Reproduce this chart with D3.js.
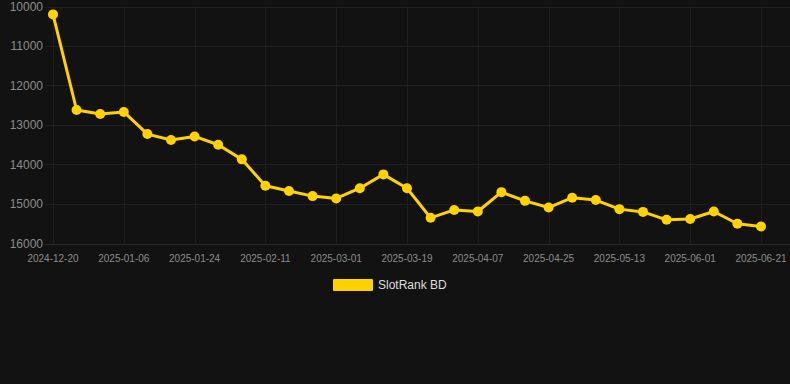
<html><head>
<meta charset="utf-8">
<title>SlotRank BD</title>
<style>
  body {
    margin: 0;
    background-color: #121212;
    font-family: Arial, "Liberation Sans", sans-serif;
  }
  .grid line {
    stroke: #1f1f1f;
    stroke-width: 1px;
  }
  .tick-label {
    fill: #8c8c8c;
  }
</style>
<script src="https://d3js.org/d3.v7.min.js"></script>
</head>
<body>
<div id="chart"></div>
<script>
const dates = [
  "2024-12-20", "2024-12-26", "2024-12-31", "2025-01-06", "2025-01-12", "2025-01-18",
  "2025-01-24", "2025-01-30", "2025-02-05", "2025-02-11", "2025-02-17", "2025-02-23",
  "2025-03-01", "2025-03-07", "2025-03-13", "2025-03-19", "2025-03-25", "2025-04-01",
  "2025-04-07", "2025-04-13", "2025-04-19", "2025-04-25", "2025-05-01", "2025-05-07",
  "2025-05-13", "2025-05-19", "2025-05-25", "2025-06-01", "2025-06-07", "2025-06-14",
  "2025-06-21"
];
const ranks = [
  10200, 12620, 12720, 12670, 13230, 13380,
  13290, 13500, 13870, 14540, 14670, 14800,
  14860, 14600, 14250, 14600, 15350, 15150,
  15190, 14700, 14920, 15090, 14840, 14900,
  15130, 15200, 15400, 15380, 15190, 15500,
  15570
];
const yTicks = [10000, 11000, 12000, 13000, 14000, 15000, 16000];
const seriesName = "SlotRank BD";
const gold = "#ffd200";

const width = 790, height = 384;
const plotLeft = 45, plotRight = 790, plotTop = 6.5, plotBottom = 243.5;

const svg = d3.select("#chart").append("svg")
  .attr("width", width)
  .attr("height", height);

svg.append("rect")
  .attr("width", width)
  .attr("height", height)
  .attr("fill", "#121212");

const x = d3.scalePoint()
  .domain(dates)
  .range([53, 761]);

const y = d3.scaleLinear()
  .domain([10000, 16000])
  .range([plotTop, plotBottom]);

// horizontal grid
const grid = svg.append("g").attr("class", "grid");
grid.selectAll("line.h")
  .data(yTicks)
  .enter().append("line")
  .attr("class", "h")
  .attr("x1", plotLeft)
  .attr("x2", plotRight)
  .attr("y1", d => Math.round(y(d)) + 0.5)
  .attr("y2", d => Math.round(y(d)) + 0.5);

// vertical grid at labelled dates
const shownDates = dates.filter((d, i) => i % 3 === 0);
grid.selectAll("line.v")
  .data(shownDates)
  .enter().append("line")
  .attr("class", "v")
  .attr("x1", d => Math.round(x(d)) + 0.5)
  .attr("x2", d => Math.round(x(d)) + 0.5)
  .attr("y1", plotTop)
  .attr("y2", plotBottom);

// x axis line
svg.append("line")
  .attr("x1", plotLeft)
  .attr("x2", plotRight)
  .attr("y1", Math.round(y(16000)) + 0.5)
  .attr("y2", Math.round(y(16000)) + 0.5)
  .attr("stroke", "#2a2a2a");

// y labels
svg.append("g").selectAll("text")
  .data(yTicks)
  .enter().append("text")
  .attr("class", "tick-label")
  .attr("x", 43)
  .attr("y", d => y(d))
  .attr("dy", "0.35em")
  .attr("text-anchor", "end")
  .attr("font-size", 12)
  .text(d => d);

// x labels
svg.append("g").selectAll("text")
  .data(shownDates)
  .enter().append("text")
  .attr("class", "tick-label")
  .attr("x", d => x(d))
  .attr("y", 258)
  .attr("dy", "0.35em")
  .attr("text-anchor", "middle")
  .attr("font-size", 10)
  .text(d => d);

// series line
const line = d3.line()
  .x((d, i) => x(dates[i]))
  .y(d => y(d));

svg.append("path")
  .datum(ranks)
  .attr("fill", "none")
  .attr("stroke", gold)
  .attr("stroke-width", 3)
  .attr("stroke-linejoin", "round")
  .attr("d", line);

svg.append("g").selectAll("circle")
  .data(ranks)
  .enter().append("circle")
  .attr("cx", (d, i) => x(dates[i]))
  .attr("cy", d => y(d))
  .attr("r", 5)
  .attr("fill", gold);

// legend
const legend = svg.append("g").attr("transform", "translate(333,279)");
legend.append("rect")
  .attr("width", 40)
  .attr("height", 12)
  .attr("rx", 1)
  .attr("fill", gold);
legend.append("text")
  .attr("x", 45)
  .attr("y", 6)
  .attr("dy", "0.35em")
  .attr("font-size", 12)
  .attr("fill", "#dddddd")
  .text(seriesName);
</script>
</body></html>
